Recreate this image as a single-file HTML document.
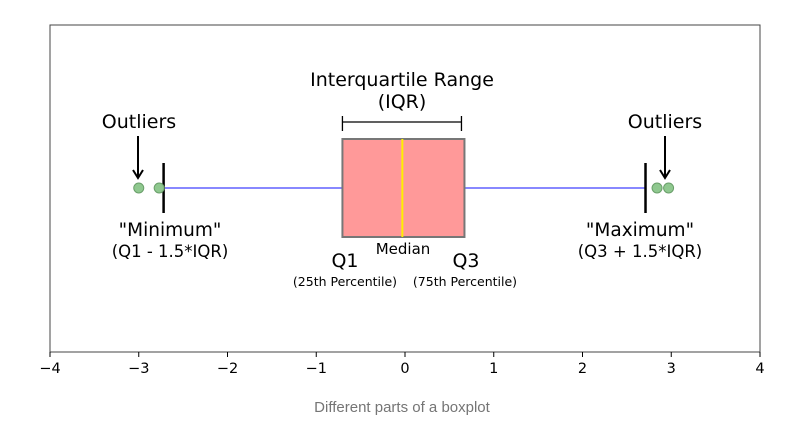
<!DOCTYPE html>
<html><head><meta charset="utf-8"><style>
body{margin:0;background:#fff;width:785px;height:425px;overflow:hidden}
svg text{font-family:"DejaVu Sans","Liberation Sans",sans-serif;fill:#000}
</style></head><body>
<svg width="785" height="425">
<g id="plot"></g>
<text x="402" y="412" text-anchor="middle" font-size="15" style="font-family:'Liberation Sans',sans-serif;fill:#757575">Different parts of a boxplot</text>
</svg>
<script>
const ticks=[-4,-3,-2,-1,0,1,2,3,4];
const q1=[-0.705], q3=[0.67], median=[-0.03];
const whiskerLow=[-2.72], whiskerHigh=[2.71];
const outliers=[-3.0,-2.77,2.84,2.97];
const X0=50,X1=760,Y0=25,Y1=352,yC=188;
const sx=v=>X0+(v+4)/8*(X1-X0);
const g=document.getElementById('plot');
const NS='http://www.w3.org/2000/svg';
function el(t,a,txt){const e=document.createElementNS(NS,t);for(const k in a)e.setAttribute(k,a[k]);if(txt!==undefined)e.textContent=txt;g.appendChild(e);return e;}
let e=el('rect',{x:X0,y:Y0,width:X1-X0,height:Y1-Y0,fill:'none',stroke:'#444','stroke-width':1});


ticks.forEach(t=>{
 let l=el('line',{x1:sx(t),x2:sx(t),y1:Y1,y2:Y1+5,stroke:'#000'});
 
 
 let tx=el('text',{x:sx(t),y:Y1+21,'text-anchor':'middle','font-size':14.5},t<0?'\u2212'+(-t):String(t));
 
 
});
e=el('line',{x1:sx(whiskerLow[0]),x2:sx(q1[0]),y1:yC,y2:yC,stroke:'#8888ff','stroke-width':2});


e=el('line',{x1:sx(q3[0]),x2:sx(whiskerHigh[0]),y1:yC,y2:yC,stroke:'#8888ff','stroke-width':2});


e=el('rect',{x:sx(q1[0]),y:139,width:sx(q3[0])-sx(q1[0]),height:98,fill:'#ff9999',stroke:'#777','stroke-width':2});


e=el('line',{x1:sx(median[0]),x2:sx(median[0]),y1:139,y2:237,stroke:'#ffee00','stroke-width':2});


[whiskerLow[0],whiskerHigh[0]].forEach(v=>{
 let c=el('line',{x1:sx(v),x2:sx(v),y1:163,y2:213,stroke:'#000','stroke-width':2.5});
 
 
});
outliers.forEach(v=>{
 let c=el('circle',{cx:sx(v),cy:yC,r:5,fill:'#8fc88f',stroke:'#6a9f6a'});
 
 
});
e=el('path',{d:`M${sx(q1[0])},116V131M${sx(q1[0])},122H${sx(q3[0])-3}M${sx(q3[0])-3},116V131`,stroke:'#000',fill:'none','stroke-width':1.3});


function txt(x,y,s,fs,name){let t=el('text',{x:x,y:y,'text-anchor':'middle','font-size':fs},s);
 
 }
txt(402,86,'Interquartile Range',19,'iqr-title');
txt(402,108,'(IQR)',19,'iqr-abbrev');
txt(139,128,'Outliers',19,'left-outliers-label');
txt(665,128,'Outliers',19,'right-outliers-label');
function arrow(x,name){let a=el('path',{d:`M${x},136V177M${x-5},170L${x},178L${x+5},170`,stroke:'#000',fill:'none','stroke-width':2});
 
 }
arrow(138,'left-outlier-arrow');arrow(665,'right-outlier-arrow');
txt(170,236,'"Minimum"',18.5,'minimum-label');
txt(170,257,'(Q1 - 1.5*IQR)',16.5,'minimum-formula');
txt(640,236,'"Maximum"',18.5,'maximum-label');
txt(640,257,'(Q3 + 1.5*IQR)',16.5,'maximum-formula');
txt(345,267,'Q1',19,'q1-label');
txt(466,267,'Q3',19,'q3-label');
txt(403,254,'Median',15,'median-label');
txt(345,286,'(25th Percentile)',12.5,'q1-percentile');
txt(465,286,'(75th Percentile)',12.5,'q3-percentile');
</script>
</body></html>
